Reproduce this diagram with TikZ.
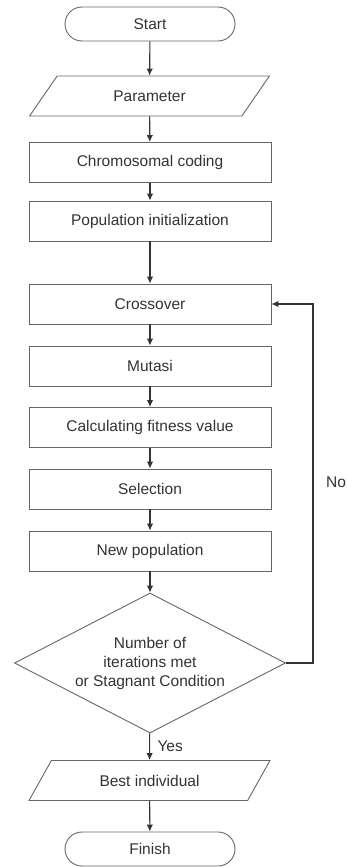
\documentclass[tikz,border=0pt]{standalone}
\usepackage{fontspec}
\setmainfont{Liberation Sans}
\usetikzlibrary{arrows.meta,shapes.geometric,shapes.misc}

\tikzset{
  proc/.style={draw=black!60,line width=0.9pt,minimum width=242,minimum height=40,inner sep=0pt},
  term/.style={draw=black!60,line width=0.9pt,rounded rectangle,minimum width=170,minimum height=34,inner sep=0pt},
  io/.style={draw=black!60,line width=0.9pt,trapezium,trapezium left angle=45,trapezium right angle=135,
    trapezium stretches=true,minimum width=241,minimum height=40,inner sep=0pt},
  decide/.style={draw=black!60,line width=0.9pt,diamond,aspect=1.94,minimum width=271,minimum height=140,
    inner sep=0pt,align=center},
  flow/.style={draw=black!80,line width=1.1pt,-{Latex[length=7pt,width=6.5pt]}}
}

\begin{document}
\begin{tikzpicture}[x=1pt,y=1pt,font=\fontsize{15.5}{19}\selectfont,text=black!80]
 \useasboundingbox (0,0) rectangle (347,-867);
 \node[term] (start) at (150,-24) {Start};
 \node[io] (param) at (149.5,-96) {Parameter};
 \foreach \n/\y/\t in {chrom/-162.5/Chromosomal coding,popinit/-221/Population initialization,
   cross/-304/Crossover,mutasi/-366/Mutasi,fitness/-427.5/Calculating fitness value,
   select/-489/Selection,newpop/-551/New population}
   {\node[proc] (\n) at (150,\y) {\t};}
 \node[decide] (stop) at (150,-663) {Number of\\iterations met\\or Stagnant Condition};
 \node[io] (best) at (149.5,-780.5) {Best individual};
 \node[term] (finish) at (150,-849) {Finish};
 \foreach \a/\b in {start/param,param/chrom,chrom/popinit,popinit/cross,cross/mutasi,
   mutasi/fitness,fitness/select,select/newpop,newpop/stop,best/finish}
   {\draw[flow] (\a) -- (\b);}
 \draw[flow] (stop) -- (best) node[midway,right=4pt] (yes) {Yes};
 \coordinate (back) at (313,-663);
 \draw[flow] (stop.east) -- (back) |- (cross.east);
 \node[anchor=west,inner sep=0pt] (no) at (326,-482) {No};
\end{tikzpicture}
\end{document}
